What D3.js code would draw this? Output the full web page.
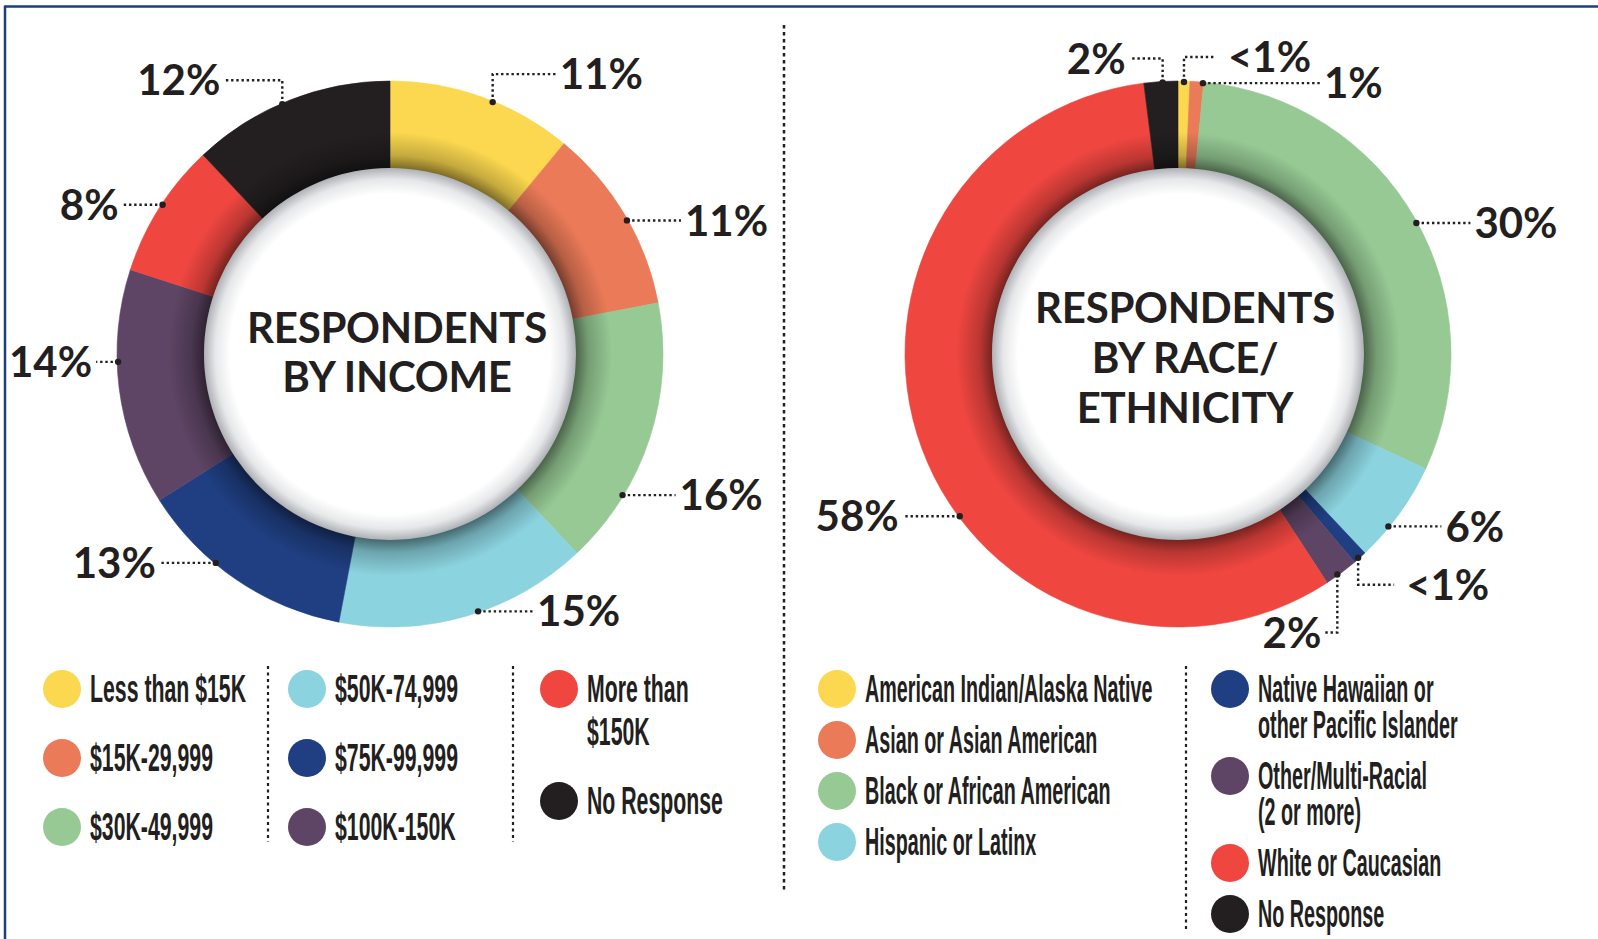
<!DOCTYPE html>
<html><head><meta charset="utf-8">
<script src="https://cdn.jsdelivr.net/npm/d3@7"></script>
<style>
html,body{margin:0;padding:0;background:#fff;overflow:hidden;}
svg{display:block;}
</style></head><body>
<svg id="chart" width="1598" height="939"></svg>
<script>
// ---------------- DATA ----------------
const incomeCategories = ["Less than $15K", "$15K-29,999", "$30K-49,999", "$50K-74,999", "$75K-99,999", "$100K-150K", "More than\n$150K", "No Response"];
const incomeValues = [11, 11, 16, 15, 13, 14, 8, 12];
const incomeLabels = ["11%", "11%", "16%", "15%", "13%", "14%", "8%", "12%"];

const raceCategories = ["American Indian/Alaska Native", "Asian or Asian American", "Black or African American", "Hispanic or Latinx", "Native Hawaiian or\nother Pacific Islander", "Other/Multi-Racial\n(2 or more)", "White or Caucasian", "No Response"];
const raceValues = [0.7, 0.8, 30.4, 6.1, 0.8, 2.0, 57.2, 2.0];
const raceLabels = ["<1%", "1%", "30%", "6%", "<1%", "2%", "58%", "2%"];

const incomeTitle = ["RESPONDENTS", "BY INCOME"];
const raceTitle = ["RESPONDENTS", "BY RACE/", "ETHNICITY"];

// ---------------- STYLE / LAYOUT ----------------
const sliceColors = ["#fbd84f", "#ea7a58", "#96c994", "#8bd3df", "#1f3f82", "#5e4565", "#ef4640", "#231f20"];
const ink = "#231f20";
const navy = "#1c3f7c";

// label leader layout: t = position along slice, mode h/v, dir, len, rise
const incomeLeaders = [
  {t: .56, mode: "v", rise: -28, dir: 1, len: 63},
  {t: .53, mode: "h", dir: 1, len: 54},
  {t: .73, mode: "h", dir: 1, len: 53},
  {t: .45, mode: "h", dir: 1, len: 55},
  {t: .62, mode: "h", dir: -1, len: 56},
  {t: .61, mode: "h", dir: -1, len: 22},
  {t: .53, mode: "h", dir: -1, len: 40},
  {t: .46, mode: "v", rise: -24, dir: -1, len: 58}
];
const raceLeaders = [
  {t: .5, mode: "v", rise: -25, dir: 1, len: 32, gap: 12},
  {t: .95, mode: "h", dir: 1, len: 117},
  {t: .51, mode: "h", dir: 1, len: 54},
  {t: .66, mode: "h", dir: 1, len: 53},
  {t: .6, mode: "v", rise: 27, dir: 1, len: 36, gap: 12},
  {t: .62, mode: "v", rise: 58, dir: -1, len: 12},
  {t: .42, mode: "h", dir: -1, len: 57},
  {t: .55, mode: "v", rise: -24, dir: -1, len: 33}
];

const svg = d3.select("#chart");
const defs = svg.append("defs");

// shadow gradient on inner edge of ring
const OUTER = 273, INNER = 186, SH = 36;
const sg = defs.append("radialGradient").attr("id", "ringShadow");
sg.append("stop").attr("offset", INNER / (INNER + SH)).attr("stop-color", "#000").attr("stop-opacity", 0.5);
sg.append("stop").attr("offset", (INNER + SH * 0.35) / (INNER + SH)).attr("stop-color", "#000").attr("stop-opacity", 0.22);
sg.append("stop").attr("offset", 1).attr("stop-color", "#000").attr("stop-opacity", 0);

const wg = defs.append("radialGradient").attr("id", "discGrad");
wg.append("stop").attr("offset", 0).attr("stop-color", "#ffffff");
wg.append("stop").attr("offset", 0.86).attr("stop-color", "#ffffff");
wg.append("stop").attr("offset", 0.94).attr("stop-color", "#e6e7e9");
wg.append("stop").attr("offset", 1).attr("stop-color", "#aeb1b5");

// frame
svg.append("line").attr("x1", 5).attr("x2", 1598).attr("y1", 6.5).attr("y2", 6.5)
  .attr("stroke", navy).attr("stroke-width", 2.5);
svg.append("line").attr("x1", 5).attr("x2", 5).attr("y1", 5.5).attr("y2", 939)
  .attr("stroke", navy).attr("stroke-width", 2.5);

// main divider
svg.append("line").attr("x1", 784).attr("x2", 784).attr("y1", 25).attr("y2", 893)
  .attr("stroke", ink).attr("stroke-width", 2.5).attr("stroke-dasharray", "3.5,3.5");

function donut(cx, cy, cats, values, labels, leaders, title, titleBase, titleGap) {
  const color = d3.scaleOrdinal().domain(cats).range(sliceColors);
  const pie = d3.pie().sort(null).value(d => d.v);
  const arcs = pie(cats.map((c, i) => ({c, v: values[i], label: labels[i], lay: leaders[i]})));
  const arc = d3.arc().innerRadius(INNER).outerRadius(OUTER);
  const g = svg.append("g").attr("transform", `translate(${cx},${cy})`);
  g.selectAll("path.slice").data(arcs).join("path")
    .attr("class", "slice").attr("d", arc)
    .attr("fill", d => color(d.data.c))
    .attr("stroke", d => color(d.data.c)).attr("stroke-width", 0.6);
  g.append("circle").attr("r", INNER + SH).attr("fill", "url(#ringShadow)");
  g.append("circle").attr("r", INNER).attr("fill", "url(#discGrad)");

  g.selectAll("text.title").data(title).join("text")
    .attr("class", "title")
    .attr("x", 7).attr("y", (d, i) => titleBase - cy + i * titleGap)
    .attr("text-anchor", "middle")
    .attr("font-family", "Lato, 'Open Sans', sans-serif").attr("font-weight", 700)
    .attr("font-size", 42).attr("letter-spacing", -0.3).attr("fill", ink)
    .text(d => d);

  // leaders + labels
  arcs.forEach(d => {
    const L = d.data.lay;
    const a = d.startAngle + (d.endAngle - d.startAngle) * L.t;
    const r = OUTER - 1;
    const ax = r * Math.sin(a), ay = -r * Math.cos(a);
    let pts, ly;
    if (L.mode === "v") {
      ly = ay + L.rise;
      pts = [[ax, ay], [ax, ly], [ax + L.dir * L.len, ly]];
    } else {
      ly = ay;
      pts = [[ax, ay], [ax + L.dir * L.len, ay]];
    }
    g.append("path").attr("d", d3.line()(pts)).attr("fill", "none")
      .attr("stroke", ink).attr("stroke-width", 2.4).attr("stroke-dasharray", "2.4,2.8");
    g.append("circle").attr("cx", ax).attr("cy", ay).attr("r", 3.2).attr("fill", ink);
    const gap = L.gap || 4;
    const ex = ax + L.dir * (L.len + gap);
    g.append("text").attr("x", ex).attr("y", ly).attr("dy", "0.36em")
      .attr("text-anchor", L.dir > 0 ? "start" : "end")
      .attr("font-family", "Lato, 'Open Sans', sans-serif").attr("font-weight", 700)
      .attr("font-size", 42).attr("fill", ink)
      .text(d.data.label);
  });
  return color;
}

const incColor = donut(390, 354, incomeCategories, incomeValues, incomeLabels, incomeLeaders, incomeTitle, 343, 49);
const raceColor = donut(1178, 354, raceCategories, raceValues, raceLabels, raceLeaders, raceTitle, 323, 50);

// legends
function legend(cats, color, columns, colX, startY, itemGap, lineGap, sx) {
  columns.forEach((col, ci) => {
    let y = startY;
    col.forEach(idx => {
      const c = cats[idx];
      const lines = c.split("\n");
      svg.append("circle").attr("cx", colX[ci]).attr("cy", y).attr("r", 19).attr("fill", color(c));
      const tg = svg.append("g").attr("transform", `translate(${colX[ci] + 28},${y + 13}) scale(${sx},1)`);
      const t = tg.append("text").attr("x", 0).attr("y", 0)
        .attr("font-family", "'Liberation Sans Narrow', 'Liberation Sans', sans-serif")
        .attr("font-weight", 700).attr("font-size", 38).attr("fill", ink);
      lines.forEach((ln, li) => {
        t.append("tspan").attr("x", 0).attr("y", li * lineGap).text(ln);
      });
      y += itemGap + (lines.length - 1) * lineGap;
    });
  });
}
legend(incomeCategories, incColor, [[0, 1, 2], [3, 4, 5], [6, 7]], [62, 307, 559], 689, 69, 43, 0.56);
legend(raceCategories, raceColor, [[0, 1, 2, 3], [4, 5, 6, 7]], [837, 1230], 689, 51, 36, 0.52);

// legend dividers
[[268, 666, 842], [513, 666, 842], [1186, 666, 930]].forEach(([x, y1, y2]) => {
  svg.append("line").attr("x1", x).attr("x2", x).attr("y1", y1).attr("y2", y2)
    .attr("stroke", ink).attr("stroke-width", 2.2).attr("stroke-dasharray", "3,3.5");
});
</script>
</body></html>
